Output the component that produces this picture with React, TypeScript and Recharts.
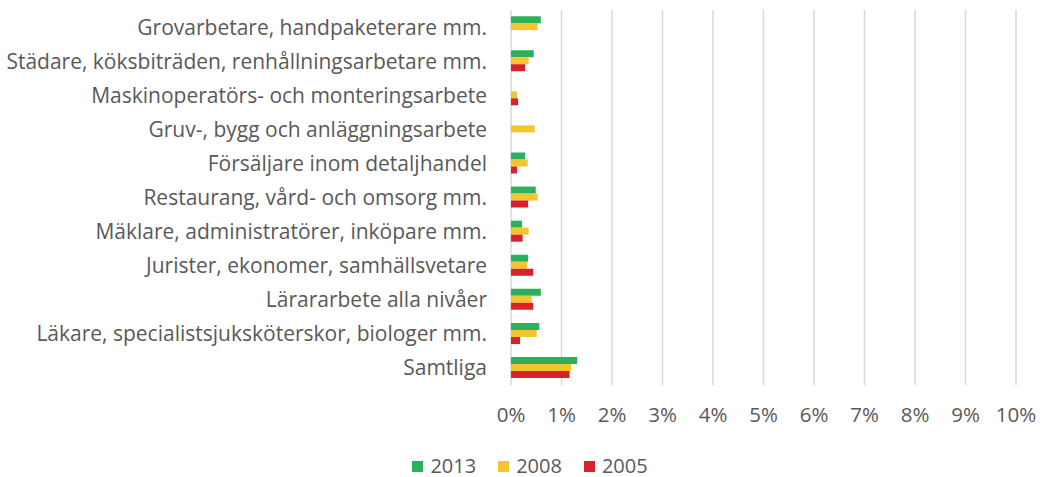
import React from "react";
import { BarChart, Bar, XAxis, YAxis, CartesianGrid, Legend } from "recharts";

const categories = [
  "Grovarbetare, handpaketerare mm.",
  "Städare, köksbiträden, renhållningsarbetare mm.",
  "Maskinoperatörs- och monteringsarbete",
  "Gruv-, bygg och anläggningsarbete",
  "Försäljare inom detaljhandel",
  "Restaurang, vård- och omsorg mm.",
  "Mäklare, administratörer, inköpare mm.",
  "Jurister, ekonomer, samhällsvetare",
  "Lärararbete alla nivåer",
  "Läkare, specialistsjuksköterskor, biologer mm.",
  "Samtliga",
];

// percent values
const values2013 = [0.59, 0.45, 0, 0, 0.28, 0.49, 0.22, 0.34, 0.59, 0.56, 1.31];
const values2008 = [0.53, 0.35, 0.12, 0.47, 0.33, 0.53, 0.35, 0.32, 0.41, 0.51, 1.19];
const values2005 = [0, 0.28, 0.14, 0, 0.12, 0.34, 0.23, 0.44, 0.44, 0.18, 1.16];

const xTicks = [0, 1, 2, 3, 4, 5, 6, 7, 8, 9, 10];

const series = [
  { key: "y2013", name: "2013", color: "#2BB15C" },
  { key: "y2008", name: "2008", color: "#F4C530" },
  { key: "y2005", name: "2005", color: "#D8212B" },
];

const data = categories.map((c, i) => ({
  category: c,
  y2013: values2013[i],
  y2008: values2008[i],
  y2005: values2005[i],
}));

const FONT = "'Open Sans', sans-serif";
const TEXT = "#595959";

function LegendRow() {
  return (
    <div style={{ display: "flex", justifyContent: "center", fontFamily: FONT, fontSize: 20, lineHeight: "20px", color: TEXT, paddingLeft: 66, paddingTop: 15 }}>
      {series.map((s) => (
        <div key={s.key} style={{ display: "flex", alignItems: "center", marginRight: 22 }}>
          <span style={{ width: 11, height: 11, background: s.color, display: "inline-block", marginRight: 7 }} />
          <span>{s.name}</span>
        </div>
      ))}
    </div>
  );
}

export default function App() {
  return (
    <div style={{ position: "absolute", left: 0, top: 0, width: 1040, height: 477, background: "#fff" }}>
      <BarChart
        width={1040}
        height={477}
        data={data}
        layout="vertical"
        margin={{ top: 10, right: 24, bottom: 0, left: 0 }}
        barCategoryGap="18%"
        barGap={0}
      >
        <CartesianGrid horizontal={false} stroke="#D9D9D9" strokeWidth={1.5} />
        <XAxis
          type="number"
          domain={[0, 10]}
          ticks={xTicks}
          tickFormatter={(v) => `${v}%`}
          axisLine={false}
          tickLine={false}
          tickSize={0}
          tickMargin={22}
          height={56}
          interval={0}
          tick={{ fill: TEXT, fontSize: 20.5, fontFamily: FONT }}
        />
        <YAxis
          type="category"
          dataKey="category"
          width={511}
          axisLine={false}
          tickLine={false}
          tickSize={0}
          tickMargin={24}
          interval={0}
          tick={{ fill: TEXT, fontSize: 21, fontFamily: FONT }}
        />
        <Legend verticalAlign="bottom" height={36} content={() => <LegendRow />} />
        {series.map((s) => (
          <Bar key={s.key} dataKey={s.key} name={s.name} fill={s.color} isAnimationActive={false} />
        ))}
      </BarChart>
    </div>
  );
}
